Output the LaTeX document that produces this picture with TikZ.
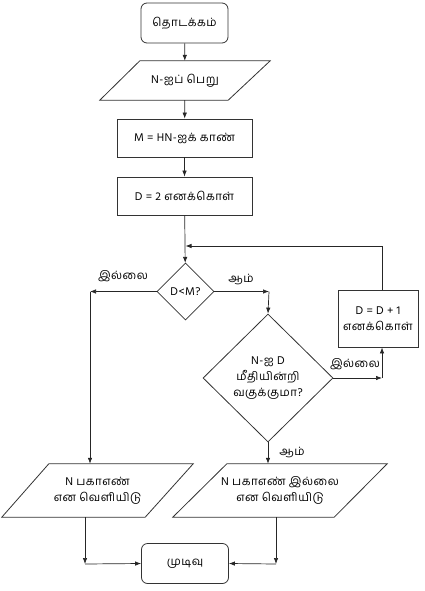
\documentclass[tikz,border=0pt]{standalone}
\usepackage{fontspec}
\setmainfont[Script=Tamil,LetterSpace=4]{Hind Madurai}
\usetikzlibrary{shapes.geometric,arrows.meta}
\begin{document}
\begin{tikzpicture}[x=1pt,y=-1pt,
  font=\fontsize{11.5}{16}\selectfont,
  outl/.style={draw=black!80, line width=0.8pt},
  term/.style={outl, rounded corners=6pt, minimum width=87pt, minimum height=40pt},
  proc/.style={outl, rectangle, minimum width=135pt, minimum height=38pt},
  iobox/.style={rectangle, align=center, inner sep=0pt},
  dec/.style={outl, diamond, align=center, inner sep=0pt},
  arr/.style={draw=black!85, line width=0.7pt, -{Latex[length=6pt,width=4.5pt]}},
  lbl/.style={inner sep=1pt}
]
\useasboundingbox (0,0) rectangle (424,591);

\node[term] (start) at (184.5,23) {தொடக்கம்};
\node[iobox, minimum width=170pt, minimum height=39pt] (p1) at (185,80.5) {N-ஐப் பெறு};
\draw[outl] ([xshift=40pt]p1.north west) -- (p1.north east) -- ([xshift=-42pt]p1.south east) -- (p1.south west) -- cycle;
\node[proc] (m) at (184.5,138) {M = HN-ஐக் காண்};
\node[proc] (d) at (184.5,196) {D = 2 எனக்கொள்};
\node[dec, minimum width=57pt, minimum height=57pt] (d1) at (185.5,291.5) {D<M?};
\node[dec, minimum width=130pt, minimum height=128pt] (d2) at (268,378) {N-ஐ D\\மீதியின்றி\\வகுக்குமா?};
\node[outl, rectangle, minimum width=80pt, minimum height=57pt, align=center] (dd) at (378,318.5) {D = D + 1\\எனக்கொள்};
\node[iobox, minimum width=191pt, minimum height=53pt] (pl) at (97.5,490.5) {N பகாஎண்\\என வெளியிடு};
\draw[outl] ([xshift=47pt]pl.north west) -- (pl.north east) -- ([xshift=-48pt]pl.south east) -- (pl.south west) -- cycle;
\node[iobox, minimum width=214pt, minimum height=53pt] (pr) at (280,490.5) {N பகாஎண் இல்லை\\என வெளியிடு};
\draw[outl] ([xshift=54pt]pr.north west) -- (pr.north east) -- ([xshift=-53pt]pr.south east) -- (pr.south west) -- cycle;
\node[term] (end) at (185,563.5) {முடிவு};

\coordinate (join) at (185.5,246);
\coordinate (cl) at (90,291.5);
\coordinate (cr) at (269,291.5);
\coordinate (c3) at (382,378);
\coordinate (c5) at (85,564);
\coordinate (c6) at (276,564);

\draw[arr] (start) -- (p1);
\draw[arr] (p1) -- (m);
\draw[arr] (m) -- (d);
\draw[arr] (d) -- (d1);
\draw[arr] (dd.north -| c3) |- (join);
\draw[arr] (d1.west) -- (cl);
\draw[arr] (cl) -- (cl |- pl.north);
\draw[arr] (d1.east) -- (cr);
\draw[arr] (cr) -- (d2.north);
\draw[arr] (d2.east) -- (c3);
\draw[arr] (c3) -- (c3 |- dd.south);
\draw[arr] (d2.south) -- (d2.south |- pr.north);
\draw[arr] (c5 |- pl.south) -- (c5);
\draw[arr] (c5) -- (end.west);
\draw[arr] (c6 |- pr.south) -- (c6);
\draw[arr] (c6) -- (end.east);

\node[lbl] (l1) at (123,276) {இல்லை};
\node[lbl] (l2) at (241,279) {ஆம்};
\node[lbl] (l3) at (355,364) {இல்லை};
\node[lbl] (l4) at (292,452) {ஆம்};
\end{tikzpicture}
\end{document}
